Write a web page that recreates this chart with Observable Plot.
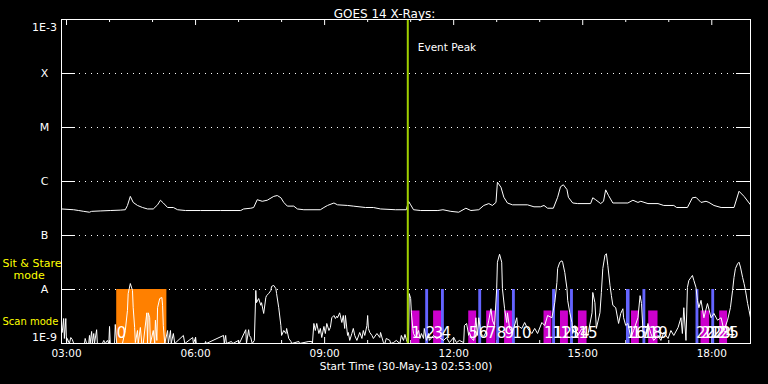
<!DOCTYPE html>
<html>
<head>
<meta charset="utf-8">
<script src="https://cdn.jsdelivr.net/npm/d3@7"></script>
<script src="https://cdn.jsdelivr.net/npm/@observablehq/plot@0.6"></script>
<style>
  html, body { margin: 0; padding: 0; background: #000; }
  #chart { width: 768px; height: 384px; overflow: hidden; }
</style>
</head>
<body>
<div id="chart"></div>
<script>
// ---------------- DATA ----------------
const startTime = "2013-05-30T02:53:00Z";      // plot start time
const endOffsetMin = 961;                       // minutes after start at right edge
const titleText = "GOES 14 X-Rays:";
const xAxisTitle = "Start Time (30-May-13 02:53:00)";

// Long channel (1-8 Å): [minutes after start, flux W/m^2]
const longChannel = [
  [0,3.1e-7],[17,3.0e-7],[24,2.9e-7],[31,2.8e-7],[39,2.7e-7],[42,2.8e-7],[54,2.85e-7],[68,2.9e-7],[82,2.95e-7],[89,3.0e-7],
  [92,3.6e-7],[96,5.3e-7],[100,4.1e-7],[106,3.6e-7],[113,3.3e-7],[120,3.1e-7],[128,3.1e-7],[134,3.7e-7],[138,4.5e-7],[142,4.0e-7],
  [148,3.3e-7],[156,3.3e-7],[162,3.0e-7],[173,2.9e-7],[194,2.9e-7],[222,2.9e-7],[250,2.9e-7],[254,3.1e-7],[264,3.2e-7],[268,3.3e-7],
  [273,4.6e-7],[280,4.3e-7],[287,4.5e-7],[296,5.3e-7],[301,5.5e-7],[306,5.0e-7],[310,4.1e-7],[315,3.5e-7],[324,3.5e-7],[329,3.1e-7],
  [338,3.0e-7],[361,3.0e-7],[366,3.3e-7],[371,3.6e-7],[380,4.0e-7],[385,3.7e-7],[399,3.6e-7],[407,3.5e-7],[424,3.3e-7],[435,3.3e-7],
  [445,3.1e-7],[466,3.0e-7],[481,3.0e-7],[484,4.3e-7],[487,3.7e-7],[491,3.0e-7],[501,2.9e-7],[525,2.9e-7],[532,3.0e-7],[543,2.8e-7],
  [554,2.7e-7],[564,3.2e-7],[571,2.9e-7],[582,3.0e-7],[589,3.6e-7],[596,3.9e-7],[601,3.6e-7],[606,4.1e-7],[608,9.7e-7],[613,7.8e-7],
  [617,5.1e-7],[622,4.0e-7],[629,3.7e-7],[650,3.7e-7],[659,3.4e-7],[668,3.4e-7],[673,3.6e-7],[678,3.2e-7],[686,3.2e-7],[692,5.1e-7],
  [696,8.0e-7],[700,8.7e-7],[705,7.1e-7],[707,5.1e-7],[713,4.0e-7],[720,3.9e-7],[738,3.9e-7],[741,5.0e-7],[745,4.6e-7],[752,3.9e-7],
  [756,4.3e-7],[759,7.0e-7],[763,5.5e-7],[769,4.0e-7],[790,4.0e-7],[797,4.5e-7],[804,4.1e-7],[808,4.3e-7],[818,3.9e-7],[832,3.9e-7],
  [840,3.6e-7],[854,3.6e-7],[858,3.3e-7],[873,3.3e-7],[880,5.0e-7],[885,5.1e-7],[892,4.1e-7],[899,4.3e-7],[903,4.1e-7],[910,3.6e-7],
  [920,3.3e-7],[938,3.3e-7],[945,6.6e-7],[952,5.3e-7],[959,4.0e-7],[961,3.7e-7]
];

// Short channel (0.5-4 Å): [minutes after start, flux W/m^2]
const shortChannel = [
  [0,1.74e-9],[1,1.6e-9],[3,2.9e-9],[4,1.24e-9],[6,2.9e-9],[7,1e-9],[8,1.24e-9],[11,1e-9],[13,1.29e-9],[15,1.19e-9],
  [17,1e-9],[32,1e-9],[33,1.24e-9],[35,1e-9],[38,1e-9],[39,1.41e-9],[40,1e-9],[42,1.67e-9],[43,1e-9],[45,1.53e-9],
  [46,1e-9],[49,1.8e-9],[50,1e-9],[57,1e-9],[59,1.14e-9],[61,1e-9],[64,1.14e-9],[66,1e-9],[67,2.07e-9],[68,1e-9],
  [74,1e-9],[75,2.25e-9],[77,1e-9],[85,1e-9],[89,1.74e-9],[92,4.1e-9],[93,8.4e-9],[96,1.29e-8],[99,9.6e-9],[100,4.6e-9],
  [102,1.98e-9],[103,1.04e-9],[106,1.74e-9],[107,1e-9],[110,1.98e-9],[112,1e-9],[114,1e-9],[119,3.7e-9],[120,1e-9],[121,3.7e-9],
  [123,3.0e-9],[124,1e-9],[128,1.74e-9],[130,1e-9],[131,2.7e-9],[133,1.14e-9],[134,4.6e-9],[137,6.8e-9],[140,7.1e-9],[141,5.1e-9],
  [142,2.15e-9],[144,1e-9],[148,1.74e-9],[149,1e-9],[152,1.74e-9],[153,1e-9],[156,1.53e-9],[158,1e-9],[170,1.41e-9],[172,1e-9],
  [183,1.29e-9],[184,1e-9],[187,1.29e-9],[188,1e-9],
  [200,1e-9],[201,1.09e-9],[202,1e-9],[226,1.41e-9],[227,1e-9],[229,1.41e-9],[230,1e-9],[237,1.09e-9],[239,1e-9],[247,1.14e-9],
  [248,1e-9],[257,1.8e-9],[258,1e-9],[261,1.8e-9],[262,1.41e-9],[264,1.29e-9],[266,1e-9],[269,1.14e-9],[271,9.6e-9],[272,5.7e-9],
  [275,6.8e-9],[278,5.1e-9],[279,5.7e-9],[282,3.6e-9],[285,7.1e-9],[286,7.7e-9],[289,8.4e-9],[292,9.6e-9],[293,1.14e-8],[296,1.19e-8],
  [299,1.04e-8],[300,8.4e-9],[303,4.6e-9],[306,2.15e-9],[307,1.41e-9],[310,1.74e-9],[313,1.53e-9],[314,1.9e-9],[317,1.24e-9],[320,1.09e-9],
  [321,1e-9],[331,1.09e-9],[332,1e-9],[345,1.09e-9],[349,1.09e-9],[350,1e-9],[352,2.35e-9],[354,1.74e-9],[356,2.35e-9],[359,1.53e-9],
  [361,1.9e-9],[363,1.29e-9],[366,2.07e-9],[368,1.53e-9],[370,2.35e-9],[373,1.74e-9],[375,1.98e-9],[377,3.0e-9],[380,3.3e-9],[382,2.9e-9],
  [384,3.2e-9],
  [385,3.0e-9],[388,3.7e-9],[391,2.45e-9],[393,3.3e-9],[395,1.9e-9],[396,3.3e-9],[399,1.41e-9],[400,1.6e-9],[402,1.14e-9],[405,1.53e-9],
  [407,1.9e-9],[409,1.41e-9],[412,1.14e-9],[416,1.6e-9],[419,1.24e-9],[421,1.74e-9],[423,1.41e-9],[426,2.15e-9],[427,3.3e-9],[428,1.9e-9],
  [430,1.6e-9],[433,1.41e-9],[435,1.24e-9],[440,1.53e-9],[444,1.29e-9],[445,1.6e-9],[449,1.04e-9],[451,1e-9],[453,1.24e-9],[458,1.14e-9],
  [459,1e-9],[463,1.04e-9],[467,1.14e-9],[472,1e-9],[474,1.41e-9],[477,1.14e-9],[479,1.47e-9],[481,1.19e-9],[483,1e-9],[484,1e-9],
  [485,8.4e-9],[487,6.8e-9],[488,3.7e-9],[490,1.9e-9],[491,1.53e-9],[494,1.29e-9],[498,1.74e-9],[500,1.24e-9],[502,1.53e-9],[505,1.24e-9],
  [506,1.9e-9],[509,1.14e-9],[512,1.53e-9],[513,1.14e-9],[519,1.41e-9],[523,1.24e-9],[527,1.29e-9],[533,1.14e-9],[537,1.29e-9],[541,1.04e-9],
  [547,1.29e-9],[551,1.04e-9],[555,1.14e-9],[561,1.04e-9],[562,2.15e-9],[565,2.35e-9],[568,1.41e-9],[569,1.6e-9],[572,1.24e-9],[575,1.14e-9],
  [578,3.0e-9],[580,1.41e-9],[582,3.0e-9],[585,1.53e-9],[589,1.35e-9],[593,1.74e-9],[596,2.7e-9],[599,4.4e-9],[601,2.7e-9],[604,2.15e-9],
  [607,1.04e-8],[608,3.2e-8],[611,4.5e-8],[614,3.2e-8],[615,1.04e-8],[618,4.4e-9],[621,2.45e-9],[622,3.7e-9],[625,1.9e-9],[629,1.6e-9],
  [635,3.0e-9],[636,2.15e-9],[642,1.9e-9],[646,2.45e-9],[650,1.9e-9],[656,1.53e-9],[660,1.9e-9],[664,1.53e-9],[670,2.45e-9],[674,2.15e-9],
  [678,3.3e-9],[684,3.0e-9],[688,5.7e-9],[691,1.35e-8],[692,2.45e-8],[695,3.2e-8],[698,3.4e-8],[699,3.2e-8],[702,2.06e-8],[705,1.04e-8],
  [706,6.3e-9],[709,3.7e-9],[712,2.45e-9],[713,1.53e-9],[716,2.15e-9],[720,1.41e-9],[726,1.9e-9],[730,1.6e-9],[734,1.41e-9],[740,3.7e-9],
  [741,8.8e-9],[744,5.7e-9],[746,1.9e-9],[751,3.7e-9],[753,8.8e-9],[755,2.45e-8],[758,4.3e-8],[760,4.6e-8],[762,2.8e-8],[765,1.19e-8],
  [767,7.7e-9],[769,5.1e-9],
  [773,4.6e-9],[777,2.35e-9],[780,3.6e-9],[783,4.4e-9],[784,3.0e-9],[787,2.15e-9],[790,2.35e-9],[794,1.29e-9],[798,1.74e-9],[804,3.0e-9],
  [807,7.7e-9],[809,5.5e-9],[811,1.74e-9],[815,1.53e-9],[818,2.35e-9],[822,1.53e-9],[826,1.14e-9],[832,1.41e-9],[836,1.14e-9],[840,1.6e-9],
  [846,1.24e-9],[850,1.74e-9],[854,1.41e-9],[860,1.98e-9],[864,3.0e-9],[866,1.53e-9],[868,4.6e-9],[871,1.14e-9],[873,1.09e-8],[875,1.47e-8],
  [878,1.67e-8],[880,1.82e-8],[882,1.47e-8],[885,1.09e-8],[887,6.3e-9],[889,4.6e-9],[892,6.3e-9],[896,3.0e-9],[901,5.5e-9],[906,3.0e-9],
  [910,3.6e-9],[915,2.7e-9],[920,3.0e-9],[924,1.74e-9],[929,2.7e-9],[933,4.6e-9],[936,9.6e-9],[938,1.67e-8],[940,2.45e-8],[943,3.0e-8],
  [945,3.2e-8],[947,2.6e-8],[950,1.67e-8],[952,1.29e-8],[954,9.6e-9],[957,5.5e-9],[959,4.1e-9],[961,3.0e-9]
];

// Observation windows: [start, end] minutes after start
const sitStareWindow = [[77, 147]];
const scanMagenta = [[488,500],[519,530],[568,579],[593,606],[618,629],[673,684],[696,707],[721,733],[795,806],[819,832],[892,904],[918,929]];
const scanBlue = [[508,512],[530,534],[582,586],[607,611],[629,633],[685,689],[710,714],[788,793],[811,815],[885,889],[907,911]];

// Event numbering labels
const eventLabelMin = [77,488,508,519,530,568,582,593,607,618,629,673,685,696,710,721,788,795,811,819,885,892,898,907,913,918];
const eventLabelText = ["0","1","2","3","4","5","6","7","8","9","10","11","12","13","14","15","16","17","18","19","20","21","22","23","24","25"];

const eventPeakMin = 483;
const eventPeakText = "Event Peak";

// Axis ticks
const hourTicks = ["03:00","04:00","05:00","06:00","07:00","08:00","09:00","10:00","11:00","12:00","13:00","14:00","15:00","16:00","17:00","18:00"];
const majorTicks = ["03:00","06:00","09:00","12:00","15:00","18:00"];
const fluxLevels = [1e-3, 1e-4, 1e-5, 1e-6, 1e-7, 1e-8, 1e-9];
const fluxLabels = ["1E-3", "X", "M", "C", "B", "A", "1E-9"];
const modeLabels = ["Sit & Stare", "mode", "Scan mode"];

// ---------------- CHART ----------------
const t0 = Date.parse(startTime);
const at = m => new Date(t0 + m * 60000);
const atClock = s => new Date(`2013-05-30T${s}:00Z`);

const W = 768, H = 384;
const mL = 61, mR = 18, mT = 19, mB = 41;
const plotW = W - mL - mR, plotH = H - mT - mB;

const levelsInner = fluxLevels.slice(1, -1);
const labelsInner = fluxLabels.slice(1, -1).map((t, i) => ({t, v: levelsInner[i]}));
const minorTicks = hourTicks.filter(h => !majorTicks.includes(h));
const barTop = {orange: 1e-8, blue: 1e-8, magenta: 4e-9};
const evLabels = eventLabelMin.map((m, i) => ({m, t: eventLabelText[i]}));

const white = "#ffffff";
const yellow = "#ffff00";
const font = "DejaVu Sans";

const chart = Plot.plot({
  width: W, height: H,
  marginLeft: mL, marginRight: mR, marginTop: mT, marginBottom: mB,
  style: {background: "#000", color: white, fontFamily: font, fontSize: "10.5px"},
  x: {type: "utc", domain: [at(0), at(endOffsetMin)], axis: null},
  y: {type: "log", domain: [1e-9, 1e-3], axis: null},
  marks: [
    // dotted grid + solid side ticks
    Plot.ruleY(levelsInner, {y: d => d, stroke: white, strokeDasharray: "1,5", strokeDashoffset: -4, insetLeft: 14, insetRight: 14}),
    Plot.ruleY(levelsInner, {y: d => d, stroke: white, insetRight: plotW - 14}),
    Plot.ruleY(levelsInner, {y: d => d, stroke: white, insetLeft: plotW - 14}),
    // time ticks top & bottom
    Plot.ruleX(minorTicks, {x: atClock, stroke: white, insetBottom: plotH - 3}),
    Plot.ruleX(majorTicks, {x: atClock, stroke: white, insetBottom: plotH - 6}),
    Plot.ruleX(minorTicks, {x: atClock, stroke: white, insetTop: plotH - 3}),
    Plot.ruleX(majorTicks, {x: atClock, stroke: white, insetTop: plotH - 6}),
    // observation windows
    Plot.rect(sitStareWindow, {x1: d => at(d[0]), x2: d => at(d[1]), y1: 1e-9, y2: barTop.orange, fill: "#ff8000"}),
    Plot.rect(scanMagenta, {x1: d => at(d[0]), x2: d => at(d[1]), y1: 1e-9, y2: barTop.magenta, fill: "#cc00cc"}),
    Plot.rect(scanBlue, {x1: d => at(d[0]), x2: d => at(d[1]), y1: 1e-9, y2: barTop.blue, fill: "#6464ff"}),
    // flux curves
    Plot.line(longChannel, {x: d => at(d[0]), y: d => d[1], stroke: white, strokeWidth: 1, clip: true}),
    Plot.line(shortChannel, {x: d => at(d[0]), y: d => d[1], stroke: white, strokeWidth: 1, clip: true}),
    // event peak
    Plot.ruleX([eventPeakMin], {x: at, stroke: "#a0d000", strokeWidth: 2}),
    Plot.text([eventPeakText], {x: () => at(eventPeakMin), text: d => d, frameAnchor: "top", dy: 24, dx: 10, textAnchor: "start", fill: white}),
    // event numbers
    Plot.text(evLabels, {x: d => at(d.m), text: d => d.t, frameAnchor: "bottom", dy: -10, textAnchor: "start", lineAnchor: "middle", fill: white, fontSize: 15}),
    // y labels
    Plot.text(labelsInner, {y: d => d.v, text: d => d.t, frameAnchor: "left", dx: -17, textAnchor: "middle", fill: white, fontSize: 11}),
    Plot.text([fluxLabels[0]], {text: d => d, frameAnchor: "top-left", dx: -17, dy: 4, textAnchor: "middle", fill: white, fontSize: 11}),
    Plot.text([fluxLabels[fluxLabels.length - 1]], {text: d => d, frameAnchor: "bottom-left", dx: -17, dy: -3, textAnchor: "middle", fill: white, fontSize: 11}),
    // mode labels
    Plot.text([modeLabels[0]], {text: d => d, frameAnchor: "top-left", dx: -59, dy: 240, textAnchor: "start", fill: yellow, fontSize: 11, letterSpacing: 0.6}),
    Plot.text([modeLabels[1]], {text: d => d, frameAnchor: "top-left", dx: -48, dy: 252, textAnchor: "start", fill: yellow, fontSize: 11, letterSpacing: 0.6}),
    Plot.text([modeLabels[2]], {text: d => d, frameAnchor: "bottom-left", dx: -59, dy: -19, textAnchor: "start", fill: yellow, fontSize: 10, letterSpacing: -0.2}),
    // x tick labels
    Plot.text(majorTicks, {x: atClock, text: d => d, frameAnchor: "bottom", dy: 13, fill: white}),
    // titles
    Plot.text([titleText], {text: d => d, frameAnchor: "top", dx: -21.5, dy: -10, fill: white, fontSize: 12, letterSpacing: 1}),
    Plot.text([xAxisTitle], {text: d => d, frameAnchor: "bottom", dy: 26, fill: white}),
    Plot.frame({stroke: white})
  ]
});
document.getElementById("chart").appendChild(chart);
</script>
</body>
</html>
